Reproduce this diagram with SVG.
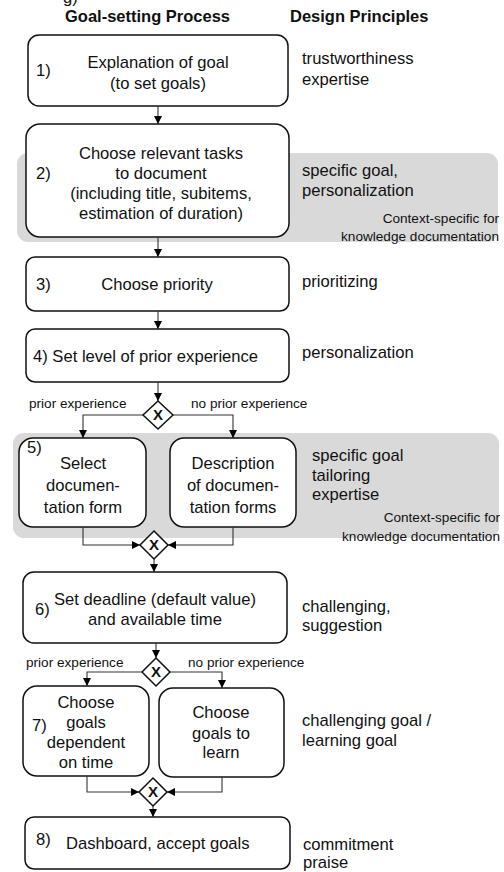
<svg xmlns="http://www.w3.org/2000/svg" width="504" height="872" viewBox="0 0 504 872">
<defs>
<marker id="ah" viewBox="0 0 8 8" refX="8" refY="4" markerWidth="8" markerHeight="8" markerUnits="userSpaceOnUse" orient="auto">
<path d="M0,0 L8,4 L0,8 Z" fill="#000"/>
</marker>
<style>
text{font-family:"Liberation Sans",Arial,sans-serif;fill:#111}
.h{font-size:16.5px;font-weight:bold}
.t{font-size:16.6px}
.m{text-anchor:middle}
.s{font-size:13.6px}
.ctx{font-size:13.6px;text-anchor:end}
.box{fill:#fff;stroke:#111;stroke-width:1.5}
.band{fill:#d9d9d9}
.gw{fill:#fff;stroke:#111;stroke-width:1.5}
.gx{font-size:15px;font-weight:bold;text-anchor:middle}
.c{fill:none;stroke:#333;stroke-width:1.1;marker-end:url(#ah)}
</style>
</defs>
<text class="t" x="63" y="3">g)</text>
<text class="h" x="65" y="22">Goal-setting Process</text>
<text class="h" x="290" y="22">Design Principles</text>

<rect class="band" x="17" y="153" width="481" height="89" rx="11"/>
<rect class="band" x="13" y="433" width="486" height="105" rx="11"/>

<g id="n1">
<rect class="box" x="28" y="35" width="260" height="71" rx="11"/>
<text class="t" x="36" y="76">1)</text>
<text class="t m" x="158" y="68">Explanation  of goal</text>
<text class="t m" x="158" y="89">(to set goals)</text>
<text class="t" x="302" y="64">trustworthiness</text>
<text class="t" x="302" y="85">expertise</text>
</g>

<g id="n2">
<rect class="box" x="26" y="124" width="263" height="113" rx="14"/>
<text class="t" x="36" y="179">2)</text>
<text class="t m" x="161" y="159">Choose relevant tasks</text>
<text class="t m" x="161" y="179">to document</text>
<text class="t m" x="161" y="199">(including  title, subitems,</text>
<text class="t m" x="161" y="219">estimation of duration)</text>
<text class="t" x="302" y="176">specific goal,</text>
<text class="t" x="302" y="196">personalization</text>
<text class="ctx" x="499" y="223">Context-specific for</text>
<text class="ctx" x="499" y="241">knowledge documentation</text>
</g>

<g id="n3">
<rect class="box" x="26" y="257" width="263" height="54" rx="9"/>
<text class="t" x="36" y="290">3)</text>
<text class="t m" x="157" y="290">Choose priority</text>
<text class="t" x="302" y="287">prioritizing</text>
</g>

<g id="n4">
<rect class="box" x="26" y="329" width="263" height="53" rx="9"/>
<text class="t" x="33" y="362">4) Set level of prior experience</text>
<text class="t" x="302" y="358">personalization</text>
</g>

<g id="g1">
<path class="gw" d="M158,401 L173,415 L158,429 L143,415 Z"/>
<text class="gx" x="158" y="420">X</text>
</g>

<g id="n5a">
<rect class="box" x="19" y="438" width="127" height="89" rx="14"/>
<text class="t" x="27" y="453">5)</text>
<text class="t m" x="83" y="469">Select</text>
<text class="t m" x="83" y="491">documen-</text>
<text class="t m" x="83" y="513">tation form</text>
</g>

<g id="n5b">
<rect class="box" x="170" y="438" width="126" height="89" rx="14"/>
<text class="t m" x="233" y="469">Description</text>
<text class="t m" x="233" y="491">of documen-</text>
<text class="t m" x="233" y="513">tation forms</text>
</g>

<g id="p5">
<text class="t" x="312" y="461">specific goal</text>
<text class="t" x="312" y="481">tailoring</text>
<text class="t" x="312" y="500">expertise</text>
<text class="ctx" x="500" y="522">Context-specific for</text>
<text class="ctx" x="500" y="541">knowledge documentation</text>
</g>

<g id="g2">
<path class="gw" d="M154,531 L168,545 L154,559 L140,545 Z"/>
<text class="gx" x="154" y="550">X</text>
</g>

<g id="n6">
<rect class="box" x="23" y="572" width="264" height="71" rx="11"/>
<text class="t" x="35" y="615">6)</text>
<text class="t m" x="155" y="605">Set deadline  (default value)</text>
<text class="t m" x="155" y="625">and available time</text>
<text class="t" x="302" y="612">challenging,</text>
<text class="t" x="302" y="631">suggestion</text>
</g>

<g id="g3">
<path class="gw" d="M156,658 L170,672 L156,686 L142,672 Z"/>
<text class="gx" x="156" y="677">X</text>
</g>

<g id="n7a">
<rect class="box" x="23" y="686" width="126" height="90" rx="14"/>
<text class="t" x="32" y="731">7)</text>
<text class="t m" x="86" y="708">Choose</text>
<text class="t m" x="86" y="728">goals</text>
<text class="t m" x="86" y="748">dependent</text>
<text class="t m" x="86" y="768">on time</text>
</g>

<g id="n7b">
<rect class="box" x="159" y="688" width="125" height="89" rx="14"/>
<text class="t m" x="221" y="718">Choose</text>
<text class="t m" x="221" y="739">goals to</text>
<text class="t m" x="221" y="758">learn</text>
<text class="t" x="302" y="726">challenging  goal /</text>
<text class="t" x="302" y="746">learning goal</text>
</g>

<g id="g4">
<path class="gw" d="M153,778 L167,792 L153,806 L139,792 Z"/>
<text class="gx" x="153" y="797">X</text>
</g>

<g id="n8">
<rect class="box" x="25" y="817" width="265" height="52" rx="9"/>
<text class="t" x="36" y="845">8)</text>
<text class="t" x="66" y="849">Dashboard, accept goals</text>
<text class="t" x="303" y="850">commitment</text>
<text class="t" x="303" y="868">praise</text>
</g>

<g id="connectors">
<path class="c" d="M158,106 L158,124"/>
<path class="c" d="M158,237 L158,257"/>
<path class="c" d="M158,311 L158,329"/>
<path class="c" d="M158,382 L158,401"/>
<path class="c" d="M143,415 L83,415 L83,438"/>
<path class="c" d="M173,415 L233,415 L233,438"/>
<path class="c" d="M83,527 L83,545 L140,545"/>
<path class="c" d="M233,527 L233,545 L168,545"/>
<path class="c" d="M154,559 L154,572"/>
<path class="c" d="M156,643 L156,658"/>
<path class="c" d="M142,672 L87,672 L87,686"/>
<path class="c" d="M170,672 L222,672 L222,688"/>
<path class="c" d="M87,776 L87,792 L139,792"/>
<path class="c" d="M222,777 L222,792 L167,792"/>
<path class="c" d="M153,806 L153,817"/>
</g>

<g id="labels">
<text class="s" x="29" y="408">prior experience</text>
<text class="s" x="191" y="408">no prior experience</text>
<text class="s" x="26" y="667">prior experience</text>
<text class="s" x="188" y="667">no prior experience</text>
</g>
</svg>
